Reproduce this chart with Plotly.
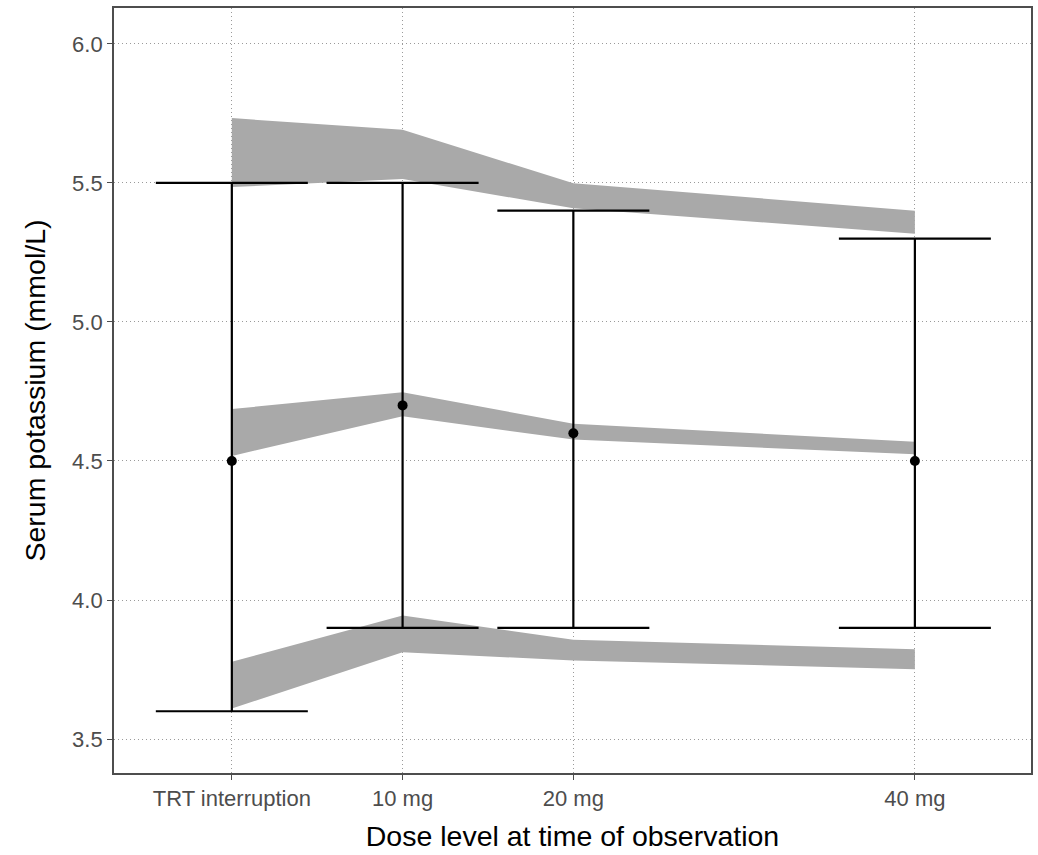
import plotly.graph_objects as go

# Data
dose_x = [0, 10, 20, 40]
dose_labels = ["TRT interruption", "10 mg", "20 mg", "40 mg"]

obs_median = [4.5, 4.7, 4.6, 4.5]
obs_low = [3.6, 3.9, 3.9, 3.9]
obs_high = [5.5, 5.5, 5.4, 5.3]

# Prediction ribbons (lower/upper bounds)
upper_band_lo = [5.485, 5.514, 5.409, 5.317]
upper_band_hi = [5.733, 5.691, 5.499, 5.400]
mid_band_lo = [4.518, 4.661, 4.577, 4.524]
mid_band_hi = [4.687, 4.747, 4.634, 4.569]
lower_band_lo = [3.610, 3.812, 3.783, 3.751]
lower_band_hi = [3.778, 3.944, 3.857, 3.823]

y_ticks = [3.5, 4.0, 4.5, 5.0, 5.5, 6.0]
y_tick_labels = ["3.5", "4.0", "4.5", "5.0", "5.5", "6.0"]

fig = go.Figure()

for lo, hi in [(upper_band_lo, upper_band_hi), (mid_band_lo, mid_band_hi), (lower_band_lo, lower_band_hi)]:
    fig.add_trace(go.Scatter(
        x=dose_x + dose_x[::-1],
        y=hi + lo[::-1],
        fill="toself",
        fillcolor="#A9A9A9",
        line=dict(width=0, color="#A9A9A9"),
        mode="lines",
        hoverinfo="skip",
        showlegend=False,
    ))

fig.add_trace(go.Scatter(
    x=dose_x,
    y=obs_median,
    mode="markers",
    marker=dict(color="black", size=10),
    error_y=dict(
        type="data",
        symmetric=False,
        array=[h - m for h, m in zip(obs_high, obs_median)],
        arrayminus=[m - l for m, l in zip(obs_median, obs_low)],
        color="black",
        thickness=2.2,
        width=76,
    ),
    showlegend=False,
))

axis_common = dict(
    showline=True,
    linecolor="#4D4D4D",
    linewidth=1.8,
    mirror=True,
    showgrid=True,
    gridcolor="#9A9A9A",
    griddash="1px,3px",
    gridwidth=1,
    zeroline=False,
    ticks="outside",
    ticklen=5,
    tickwidth=1.3,
    tickcolor="#4D4D4D",
    tickfont=dict(family="Liberation Sans, Arial", size=22, color="#4D4D4D"),
)

fig.update_xaxes(
    **axis_common,
    range=[-6.9, 46.8],
    tickvals=dose_x,
    ticktext=dose_labels,
    title=dict(text="Dose level at time of observation",
               font=dict(family="Liberation Sans, Arial", size=28.5, color="black"),
               standoff=16),
)
fig.update_yaxes(
    **axis_common,
    range=[3.378, 6.129],
    tickvals=y_ticks,
    ticktext=y_tick_labels,
    title=dict(text="Serum potassium (mmol/L)",
               font=dict(family="Liberation Sans, Arial", size=28.5, color="black"),
               standoff=18),
)

fig.update_layout(
    width=1038,
    height=855,
    margin=dict(l=114, r=5, t=8, b=82),
    plot_bgcolor="white",
    paper_bgcolor="white",
)

fig.write_html("out.html")
